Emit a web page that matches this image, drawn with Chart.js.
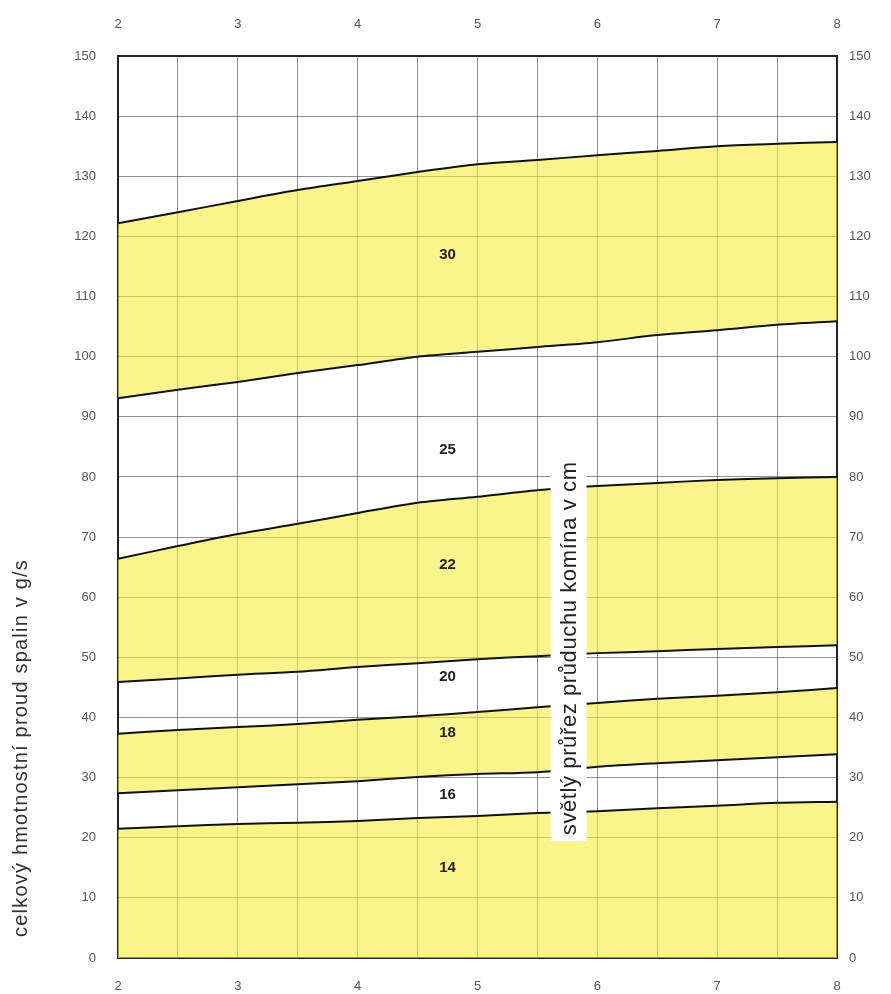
<!DOCTYPE html>
<html lang="cs">
<head>
    <meta charset="UTF-8">
    <title>Světlý průřez průduchu komína</title>
    <script src="https://cdn.jsdelivr.net/npm/chart.js"></script>
    <style>
        body {
            margin: 0;
            background-color: #ffffff;
        }
        .chart-container {
            position: relative;
            width: 891px;
            height: 994px;
        }
    </style>
</head>
<body>
    <div class="chart-container">
        <canvas id="flueChart"></canvas>
    </div>
    <script>
        // x values (read at every half grid column)
        const xValues = [2, 2.5, 3, 3.5, 4, 4.5, 5, 5.5, 6, 6.5, 7, 7.5, 8];

        // boundary curves, bottom to top
        const curve14to16 = [21.5, 21.9, 22.3, 22.5, 22.8, 23.3, 23.6, 24.1, 24.4, 24.9, 25.3, 25.8, 26.0];
        const curve16to18 = [27.4, 27.9, 28.4, 28.9, 29.4, 30.1, 30.6, 30.9, 31.8, 32.4, 32.9, 33.4, 33.9];
        const curve18to20 = [37.3, 37.9, 38.4, 38.9, 39.6, 40.2, 40.9, 41.7, 42.4, 43.1, 43.6, 44.2, 44.9];
        const curve20to22 = [45.9, 46.5, 47.1, 47.6, 48.4, 49.0, 49.7, 50.2, 50.7, 51.0, 51.4, 51.7, 52.0];
        const curve22to25 = [66.4, 68.5, 70.5, 72.2, 74.0, 75.7, 76.7, 77.8, 78.5, 79.0, 79.5, 79.8, 80.0];
        const curve25to30 = [93.1, 94.5, 95.8, 97.3, 98.6, 100.0, 100.8, 101.6, 102.4, 103.6, 104.4, 105.3, 105.9];
        const curve30top  = [122.2, 124.0, 125.9, 127.7, 129.2, 130.7, 132.0, 132.7, 133.5, 134.2, 135.0, 135.4, 135.7];

        // band labels (chimney flue size in cm) and where they sit
        const bandNames = ['30', '25', '22', '20', '18', '16', '14'];
        const bandLabelX = 4.75;
        const bandLabelY = [116.9, 84.5, 65.4, 46.7, 37.4, 27.1, 15.0];

        const yAxisTitle = 'celkový hmotnostní proud spalin v g/s';
        const flueTitle = 'světlý průřez průduchu komína v cm';

        const yellow = 'rgba(245, 238, 60, 0.6)';
        const tickFont = { family: "'Liberation Sans Narrow', 'Liberation Sans', Arial, sans-serif", size: 13 };

        function toPoints(values) {
            return values.map((v, i) => ({ x: xValues[i], y: v }));
        }

        function curve(values, fill) {
            return {
                data: toPoints(values),
                borderColor: '#111',
                borderWidth: 2,
                pointRadius: 0,
                tension: 0.3,
                fill: fill,
                backgroundColor: yellow
            };
        }

        const textPlugin = {
            id: 'textPlugin',
            afterDraw(chart) {
                const ctx = chart.ctx;
                const xs = chart.scales.x;
                const ys = chart.scales.y;
                ctx.save();

                // band labels
                ctx.fillStyle = '#222';
                ctx.font = "bold 15px 'Liberation Sans', Arial, sans-serif";
                ctx.textAlign = 'center';
                ctx.textBaseline = 'middle';
                bandNames.forEach((name, i) => {
                    ctx.fillText(name, xs.getPixelForValue(bandLabelX), ys.getPixelForValue(bandLabelY[i]));
                });

                // vertical label in a white box
                const cx = xs.getPixelForValue(5.76);
                const cy = ys.getPixelForValue(51.5);
                ctx.fillStyle = '#ffffff';
                ctx.fillRect(cx - 18, cy - 193, 36, 386);
                ctx.translate(cx, cy);
                ctx.rotate(-Math.PI / 2);
                ctx.fillStyle = '#222';
                ctx.font = "22px 'Liberation Sans', Arial, sans-serif";
                ctx.letterSpacing = '0.6px';
                ctx.fillText(flueTitle, 0, 1);
                ctx.restore();

                // left axis title
                ctx.save();
                ctx.translate(21, 748);
                ctx.rotate(-Math.PI / 2);
                ctx.fillStyle = '#333';
                ctx.textAlign = 'center';
                ctx.textBaseline = 'middle';
                ctx.font = "20px 'Liberation Sans', Arial, sans-serif";
                ctx.letterSpacing = '1.2px';
                ctx.fillText(yAxisTitle, 0, 0);
                ctx.restore();
            }
        };

        const gridColor = 'rgba(70, 70, 80, 0.6)';
        const border = { display: true, color: '#222', width: 2 };

        const ctx = document.getElementById('flueChart').getContext('2d');
        new Chart(ctx, {
            type: 'line',
            data: {
                datasets: [
                    curve(curve14to16, 'origin'),
                    curve(curve16to18, false),
                    curve(curve18to20, '-1'),
                    curve(curve20to22, false),
                    curve(curve22to25, '-1'),
                    curve(curve25to30, false),
                    curve(curve30top, '-1')
                ]
            },
            options: {
                responsive: true,
                maintainAspectRatio: false,
                animation: false,
                layout: { padding: 0 },
                plugins: {
                    legend: { display: false },
                    tooltip: { enabled: false },
                    filler: { drawTime: 'beforeDatasetsDraw' }
                },
                scales: {
                    x: {
                        type: 'linear',
                        position: 'bottom',
                        min: 2,
                        max: 8,
                        afterFit: s => { s.height = 36; },
                        grid: { color: gridColor, drawTicks: false },
                        border: border,
                        ticks: {
                            stepSize: 0.5,
                            autoSkip: false,
                            maxRotation: 0,
                            padding: 21,
                            color: '#555',
                            font: tickFont,
                            callback: v => Number.isInteger(v) ? v : ''
                        }
                    },
                    x2: {
                        type: 'linear',
                        position: 'top',
                        min: 2,
                        max: 8,
                        afterFit: s => { s.height = 56; },
                        grid: { display: false, drawTicks: false },
                        border: border,
                        ticks: {
                            stepSize: 1,
                            autoSkip: false,
                            maxRotation: 0,
                            padding: 24,
                            color: '#555',
                            font: tickFont
                        }
                    },
                    y: {
                        position: 'left',
                        min: 0,
                        max: 150,
                        afterFit: s => { s.width = 118; },
                        grid: { color: gridColor, drawTicks: false },
                        border: border,
                        ticks: { stepSize: 10, padding: 22, color: '#555', font: tickFont }
                    },
                    y2: {
                        position: 'right',
                        min: 0,
                        max: 150,
                        afterFit: s => { s.width = 54; },
                        grid: { display: false, drawTicks: false },
                        border: border,
                        ticks: { stepSize: 10, padding: 12, color: '#555', font: tickFont }
                    }
                }
            },
            plugins: [textPlugin]
        });
    </script>
</body>
</html>
